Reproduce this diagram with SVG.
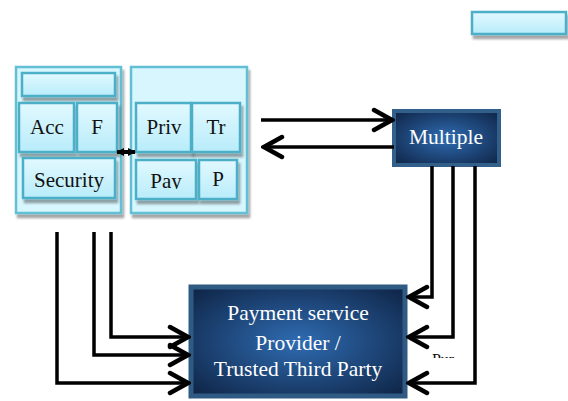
<svg xmlns="http://www.w3.org/2000/svg" width="568" height="401" viewBox="0 0 568 401">
<style>
.lbl{font-family:'Liberation Serif','DejaVu Serif',serif;font-size:21px;fill:#111;text-anchor:middle}
.wlbl{font-family:'Liberation Serif','DejaVu Serif',serif;font-size:21.5px;fill:#fff;text-anchor:middle}
.cont{fill:#d8f6fd;stroke:#62bfd4;stroke-width:2.5}
.box{fill:url(#cyan);stroke:#4bafc8;stroke-width:2.5}
.conn{fill:none;stroke:#000;stroke-width:3.5}
</style>
<defs>
<linearGradient id="cyan" x1="0" y1="0" x2="0" y2="1">
<stop offset="0" stop-color="#e2f9ff"/>
<stop offset="1" stop-color="#b8ecfa"/>
</linearGradient>
<radialGradient id="navy" cx="0.5" cy="0.5" r="0.7">
<stop offset="0" stop-color="#2f6cb2"/>
<stop offset="1" stop-color="#0e2344"/>
</radialGradient>
<filter id="sh" x="-10%" y="-10%" width="130%" height="140%">
<feDropShadow dx="2" dy="4" stdDeviation="1.2" flood-color="#000" flood-opacity="0.35"/>
</filter>
<marker id="chev" viewBox="0 0 24 26" markerWidth="24" markerHeight="26" refX="21" refY="13" orient="auto" markerUnits="userSpaceOnUse">
<path d="M3 3 L21 13 L3 23" fill="none" stroke="#000" stroke-width="4.5" stroke-linecap="round" stroke-linejoin="miter"/>
</marker>
<marker id="tri" viewBox="0 0 10 10" markerWidth="8" markerHeight="10" refX="9" refY="5" orient="auto-start-reverse" markerUnits="userSpaceOnUse">
<path d="M0 0 L10 5 L0 10 Z" fill="#000"/>
</marker>
<clipPath id="purclip"><rect x="420" y="340" width="50" height="18"/></clipPath>
<clipPath id="payclip"><rect x="136" y="160" width="60" height="29"/></clipPath>
</defs>

<g id="topright">
<rect x="472" y="12" width="94" height="22" class="box" filter="url(#sh)"/>
</g>

<g id="left-container">
<rect x="16" y="67" width="105" height="146" class="cont" filter="url(#sh)"/>
<rect x="22" y="73" width="93" height="23" class="box" filter="url(#sh)"/>
<g id="acc"><rect x="19" y="103" width="55" height="49" class="box" filter="url(#sh)"/><text x="47" y="134" class="lbl">Acc</text></g>
<g id="f"><rect x="77" y="103" width="40" height="49" class="box" filter="url(#sh)"/><text x="97" y="134" class="lbl">F</text></g>
<g id="security"><rect x="23" y="158" width="92" height="40" class="box" filter="url(#sh)"/><text x="69" y="187" class="lbl">Security</text></g>
</g>

<g id="right-container">
<rect x="131" y="67" width="116" height="146" class="cont" filter="url(#sh)"/>
<g id="priv"><rect x="136" y="103" width="55" height="49" class="box" filter="url(#sh)"/><text x="164" y="134" class="lbl">Priv</text></g>
<g id="tr"><rect x="192" y="103" width="48" height="49" class="box" filter="url(#sh)"/><text x="216" y="134" class="lbl">Tr</text></g>
<g id="pay"><rect x="136" y="160" width="60" height="39" class="box" filter="url(#sh)"/><text x="166" y="188" class="lbl" clip-path="url(#payclip)">Pay</text></g>
<g id="p"><rect x="199" y="160" width="38" height="39" class="box" filter="url(#sh)"/><text x="218" y="186" class="lbl">P</text></g>
</g>

<g id="multiple">
<rect x="394" y="111" width="105" height="54" fill="url(#navy)" stroke="#33608a" stroke-width="4"/>
<text x="446" y="144" class="wlbl">Multiple</text>
</g>

<g id="psp">
<rect x="191" y="287" width="214" height="109" fill="url(#navy)" stroke="#2f5a84" stroke-width="5"/>
<text x="298" y="320" class="wlbl">Payment service</text>
<text x="298" y="350" class="wlbl">Provider /</text>
<text x="298" y="376" class="wlbl">Trusted Third Party</text>
</g>

<g id="connectors">
<line x1="117" y1="152" x2="135" y2="152" stroke="#000" stroke-width="4" marker-start="url(#tri)" marker-end="url(#tri)"/>
<line x1="261" y1="120" x2="392" y2="120" class="conn" marker-end="url(#chev)"/>
<line x1="394" y1="147" x2="264" y2="147" class="conn" marker-end="url(#chev)"/>
<polyline points="57,232 57,383 188,383" class="conn" marker-end="url(#chev)"/>
<polyline points="94,232 94,355 188,355" class="conn" marker-end="url(#chev)"/>
<polyline points="111,232 111,337 188,337" class="conn" marker-end="url(#chev)"/>
<polyline points="432,166 432,297 409,297" class="conn" marker-end="url(#chev)"/>
<polyline points="453,166 453,337 409,337" class="conn" marker-end="url(#chev)"/>
<polyline points="475,166 475,383 409,383" class="conn" marker-end="url(#chev)"/>
</g>

<text x="443" y="365" font-family="'Liberation Serif','DejaVu Serif',serif" font-size="16" fill="#111" text-anchor="middle" clip-path="url(#purclip)">Pur</text>
</svg>
